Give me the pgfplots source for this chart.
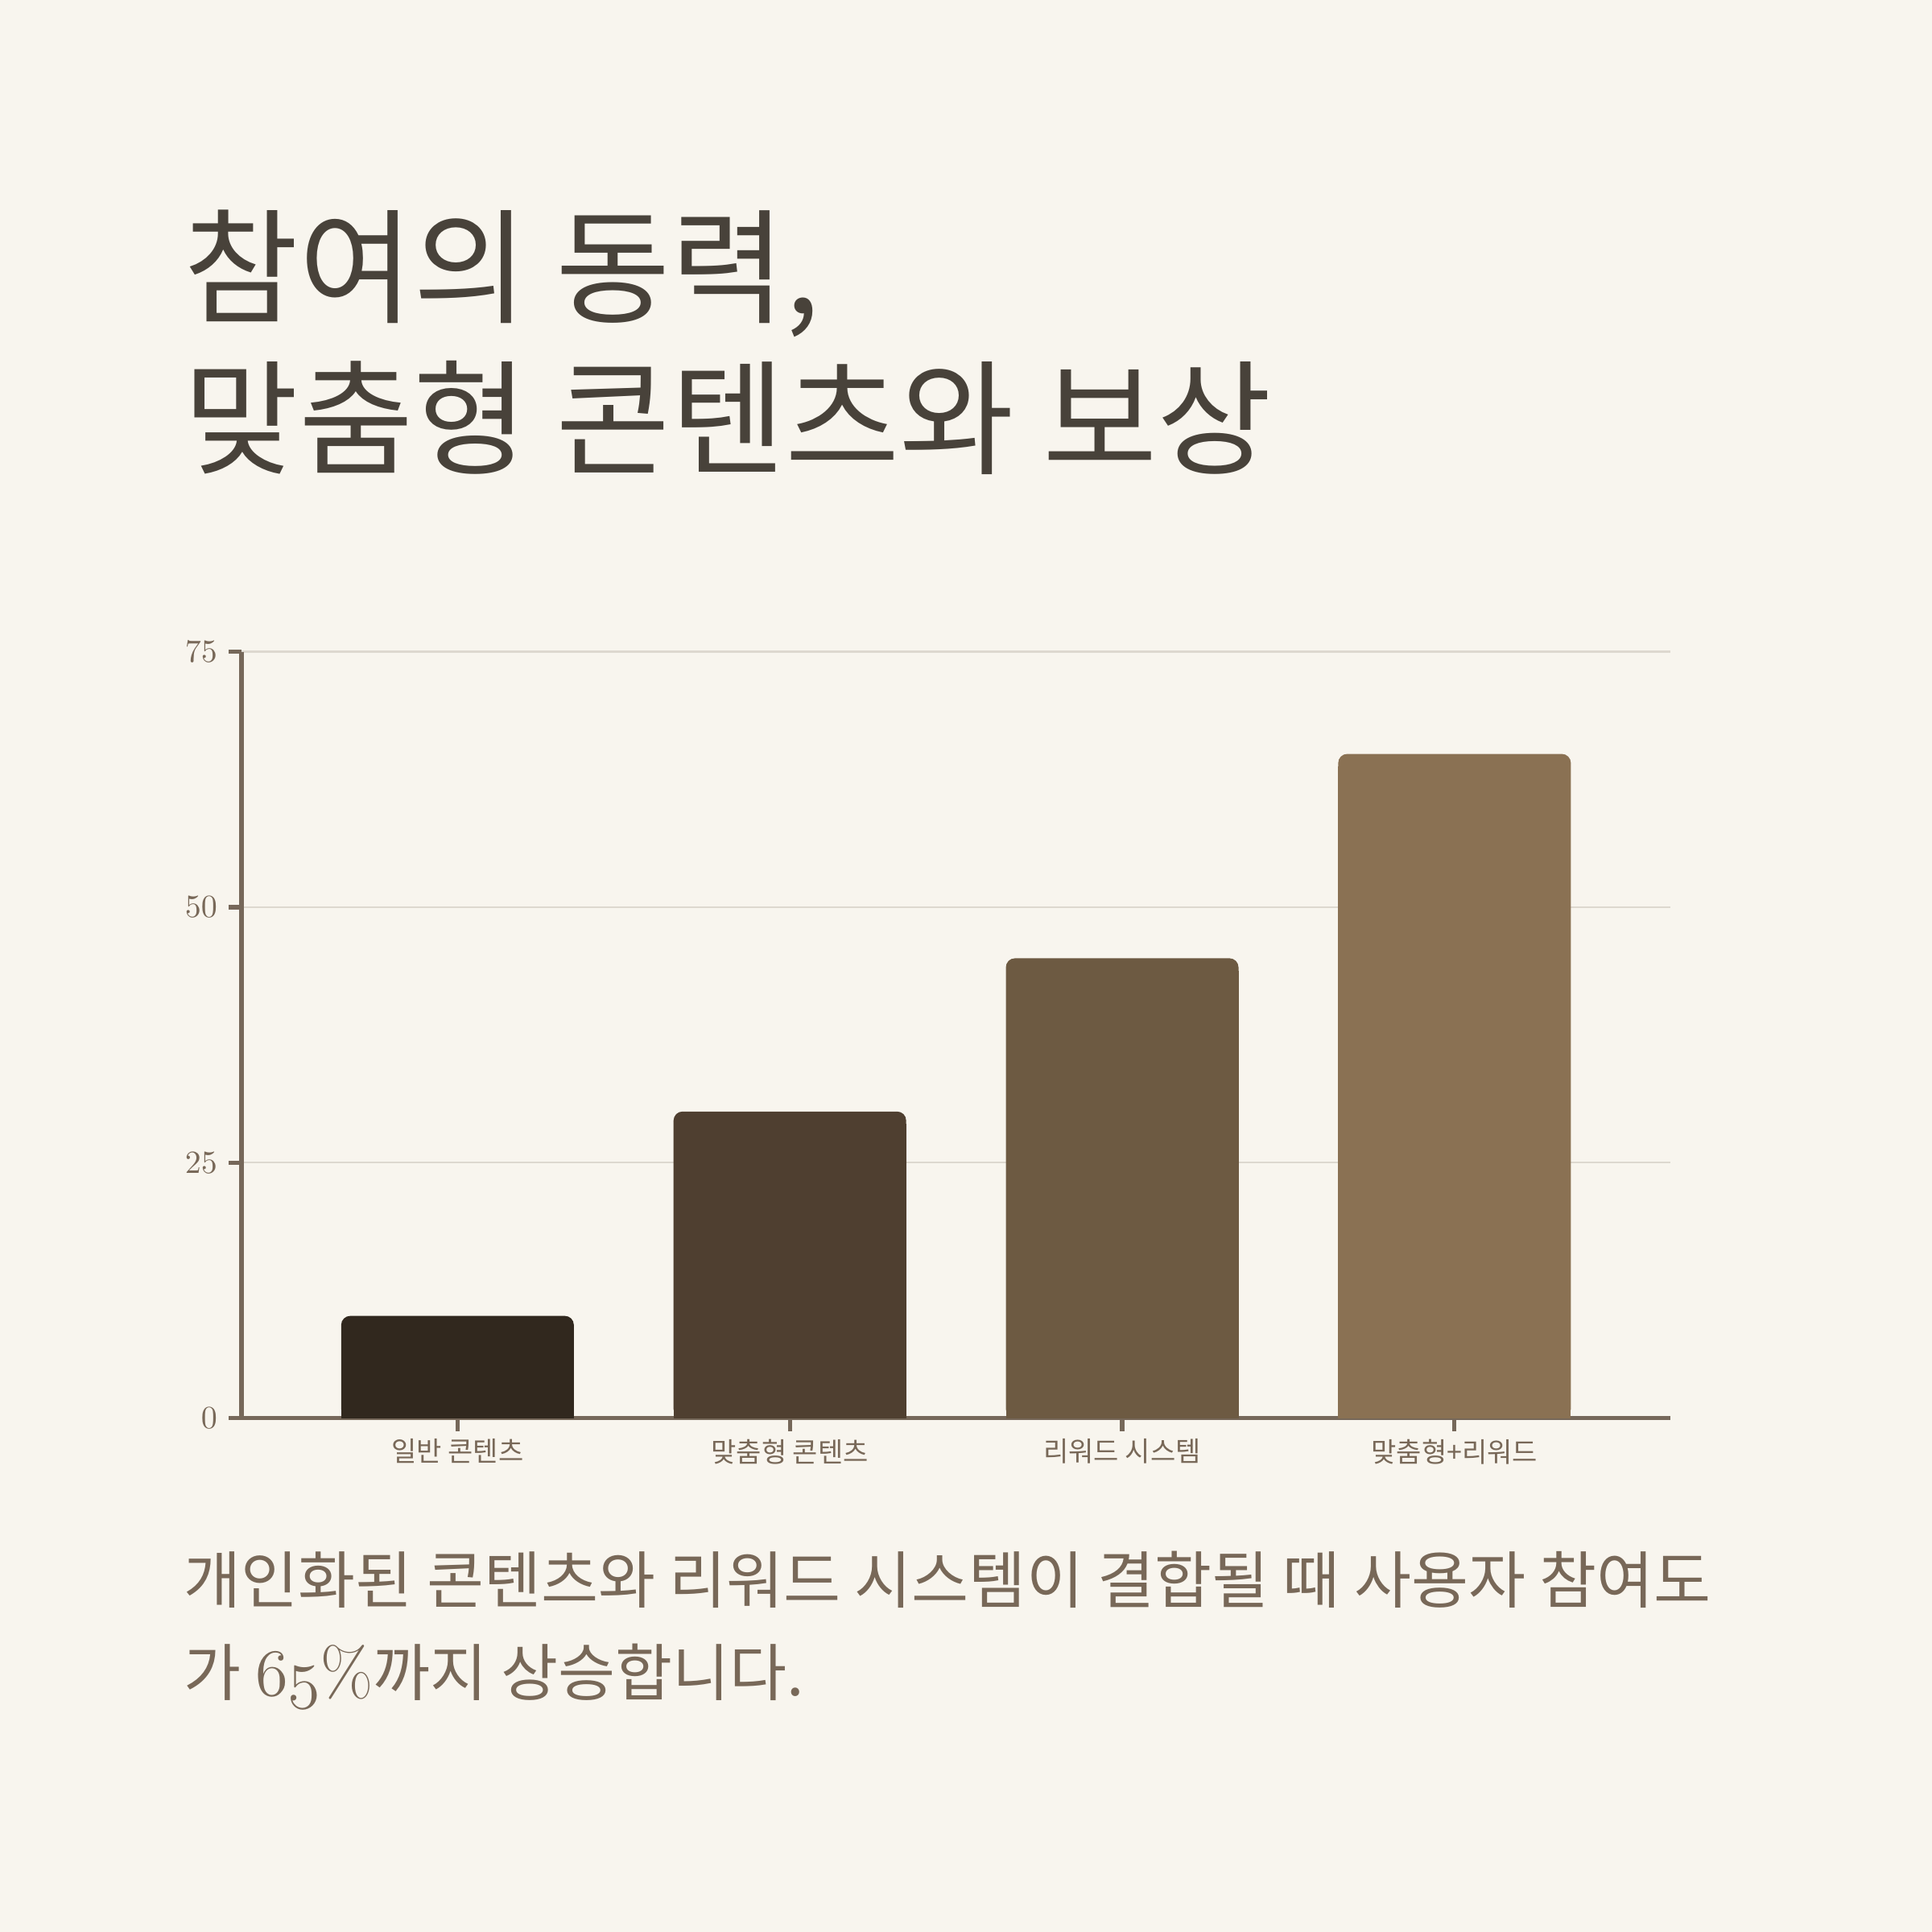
\documentclass[border=0pt]{standalone}
\usepackage{fontspec}
\usepackage{pgfplots}
\pgfplotsset{compat=1.18}
\newfontfamily\kr{Noto Sans CJK KR}
\definecolor{bg}{HTML}{F8F5EE}
\definecolor{titlec}{HTML}{48423A}
\definecolor{txtc}{HTML}{786858}
\definecolor{axc}{HTML}{76685A}
\definecolor{gridc}{HTML}{DDD8CF}
\definecolor{c1}{HTML}{31281E}
\definecolor{c2}{HTML}{4F3F30}
\definecolor{c3}{HTML}{6D5A42}
\definecolor{c4}{HTML}{8A7153}
\newcommand{\osn}[1]{{\usefont{OML}{cmm}{m}{it}#1}}
\begin{document}
\begin{tikzpicture}[x=1pt,y=1pt]
\fill[bg] (0,0) rectangle (600,600);
\useasboundingbox (0,0) rectangle (600,600);
\node[anchor=base west,inner sep=0,text=titlec,font=\kr\fontsize{38.7}{46}\selectfont] at (57,502.5) {참여의 동력,};
\node[anchor=base west,inner sep=0,text=titlec,font=\kr\fontsize{38.7}{46}\selectfont] at (57,455.5) {맞춤형 콘텐츠와 보상};
\node[anchor=base west,inner sep=0,text=txtc,font=\kr\fontsize{19.3}{22}\selectfont] at (57,102) {개인화된 콘텐츠와 리워드 시스템이 결합될 때 사용자 참여도};
\node[anchor=base west,inner sep=0,text=txtc,font=\kr\fontsize{19.3}{22}\selectfont] at (57,73.3) {가 {\fontsize{21}{22}\selectfont\osn{65}{\rmfamily\%}}까지 상승합니다.};
\begin{axis}[
  at={(75pt,159.6pt)}, anchor=south west,
  scale only axis, width=443.8pt, height=238pt,
  xmin=-0.65, xmax=3.65, ymin=0, ymax=75,
  axis lines=left, axis line style={-, axc, line width=1.3pt},
  xtick={0,1,2,3},
  xticklabels={일반 콘텐츠, 맞춤형 콘텐츠, 리워드 시스템, 맞춤형+리워드},
  ytick={0,25,50,75},
  yticklabel={\osn{\pgfmathprintnumber{\tick}}},
  yticklabel style={font=\fontsize{10}{10}\selectfont, text=txtc},
  xticklabel style={font=\kr\fontsize{8.5}{9}\selectfont, text=txtc, yshift=1pt},
  tick style={axc, line width=1.3pt},
  major tick length=4pt,
  tick align=outside,
  ymajorgrids, grid style={gridc, line width=0.6pt},
  ybar, bar width=0.7, bar shift=0pt,
  clip=false,
]
\addplot[fill=c1, draw=none, rounded corners=2.8pt] coordinates {(0,10)};
\addplot[fill=c2, draw=none, rounded corners=2.8pt] coordinates {(1,30)};
\addplot[fill=c3, draw=none, rounded corners=2.8pt] coordinates {(2,45)};
\addplot[fill=c4, draw=none, rounded corners=2.8pt] coordinates {(3,65)};
\addplot[fill=c1, draw=none] coordinates {(0,8.8)};
\addplot[fill=c2, draw=none] coordinates {(1,28.8)};
\addplot[fill=c3, draw=none] coordinates {(2,43.8)};
\addplot[fill=c4, draw=none] coordinates {(3,63.8)};
\end{axis}
\end{tikzpicture}
\end{document}
